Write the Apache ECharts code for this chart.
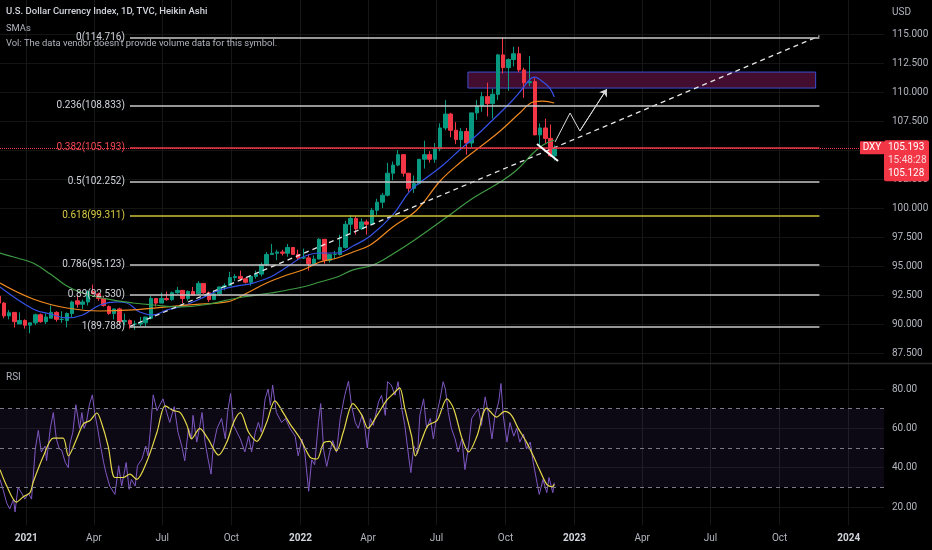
<!DOCTYPE html>
<html><head><meta charset="utf-8">
<script src="https://cdn.jsdelivr.net/npm/echarts@6/dist/echarts.min.js"></script>
<style>html,body{margin:0;padding:0;background:#000;}#c{width:932px;height:550px;}</style>
</head><body><div id="c"></div>
<script>
// ---------- DATA ----------
const WEEKS = ['2020-11-25','2020-12-02','2020-12-09','2020-12-16','2020-12-23','2020-12-30',
'2021-01-06','2021-01-13','2021-01-20','2021-01-27','2021-02-03','2021-02-10','2021-02-17','2021-02-24','2021-03-03','2021-03-10','2021-03-17','2021-03-24','2021-03-31','2021-04-07','2021-04-14','2021-04-21','2021-04-28','2021-05-05','2021-05-12','2021-05-19','2021-05-26','2021-06-02','2021-06-09','2021-06-16','2021-06-23','2021-06-30','2021-07-07','2021-07-14','2021-07-21','2021-07-28','2021-08-04','2021-08-11','2021-08-18','2021-08-25','2021-09-01','2021-09-08','2021-09-15','2021-09-22','2021-09-29','2021-10-06','2021-10-13','2021-10-20','2021-10-27','2021-11-03','2021-11-10','2021-11-17','2021-11-24','2021-12-01','2021-12-08','2021-12-15','2021-12-22','2021-12-29',
'2022-01-05','2022-01-12','2022-01-19','2022-01-26','2022-02-02','2022-02-09','2022-02-16','2022-02-23','2022-03-02','2022-03-09','2022-03-16','2022-03-23','2022-03-30','2022-04-06','2022-04-13','2022-04-20','2022-04-27','2022-05-04','2022-05-11','2022-05-18','2022-05-25','2022-06-01','2022-06-08','2022-06-15','2022-06-22','2022-06-29','2022-07-06','2022-07-13','2022-07-20','2022-07-27','2022-08-03','2022-08-10','2022-08-17','2022-08-24','2022-08-31','2022-09-07','2022-09-14','2022-09-21','2022-09-28','2022-10-05','2022-10-12','2022-10-19','2022-10-26','2022-11-02','2022-11-09','2022-11-16','2022-11-23','2022-11-30','2022-12-05'];
const OPEN  = [92.4,91.8,90.7,91.0,90.0,90.3, 89.9,90.1,90.8,90.2,90.5,91.0,90.4,90.3,90.9,92.0,91.7,91.9,92.8,92.6,92.2,91.5,90.9,91.3,90.2,90.3,90.0,90.0,90.1,90.5,92.2,91.8,92.2,92.1,92.7,92.9,92.2,92.8,92.6,93.5,92.7,92.1,92.6,93.2,93.3,94.0,94.1,93.9,93.6,94.1,94.3,95.1,96.0,96.1,96.2,96.1,96.6,96.0, 95.7,95.7,95.2,95.6,97.3,95.5,96.0,96.0,96.6,98.6,99.1,98.2,98.8,98.6,99.8,100.5,101.1,103.0,103.7,104.6,103.0,101.7,102.1,104.2,104.6,104.2,105.1,106.9,108.1,106.7,105.9,106.6,105.6,108.2,108.8,109.6,109.0,109.8,113.2,112.1,112.8,113.3,111.9,110.8,110.9,106.3,106.9,106.0,104.5];
const HIGH  = [92.5,91.9,91.2,91.0,91.0,90.4, 90.1,90.9,90.9,90.9,91.6,91.1,91.1,91.0,92.0,92.5,92.1,92.9,93.4,92.7,92.3,91.6,91.3,91.4,90.9,90.4,90.3,90.6,90.6,92.4,92.2,92.7,92.8,92.8,93.2,92.9,92.9,93.2,93.7,93.5,92.8,92.9,93.2,93.5,94.5,94.3,94.6,94.0,94.2,94.6,95.3,96.2,96.9,96.4,96.4,96.9,96.6,96.4, 96.5,96.0,95.9,97.4,97.3,96.0,96.3,97.7,98.9,99.4,99.3,99.1,99.0,100.0,100.8,101.3,103.9,104.0,105.0,104.6,103.0,102.8,104.2,105.8,104.9,105.6,107.3,109.3,108.2,107.4,106.9,106.9,108.2,109.3,110.0,110.8,110.3,113.3,114.72,112.9,113.9,113.9,112.1,113.1,111.2,107.3,107.7,107.2,105.4];
const LOW   = [91.8,90.5,90.4,89.7,90.0,89.6, 89.2,89.9,90.1,90.0,90.5,90.2,90.1,89.7,90.6,91.4,91.3,91.6,92.6,92.0,91.5,90.8,90.4,90.0,89.9,89.6,89.5,89.8,89.8,90.4,91.5,91.8,92.0,92.0,92.6,91.8,92.0,92.5,92.5,92.6,91.9,92.1,92.4,92.9,93.3,93.7,93.7,93.5,93.3,93.9,94.1,95.0,96.0,95.5,95.9,95.8,96.0,95.5, 95.6,94.6,95.1,95.6,95.2,95.3,95.6,95.9,96.5,97.7,97.7,98.1,97.7,98.6,99.4,100.0,101.0,102.4,103.6,102.7,101.4,101.3,102.0,103.4,103.9,103.9,104.9,106.7,106.1,105.5,105.0,104.6,105.2,107.6,108.3,107.9,107.7,109.3,111.6,110.1,112.2,111.7,109.5,110.5,106.3,105.3,105.6,104.4,104.1];
const CLOSE = [91.8,90.7,90.97,90.2,90.3,89.9, 90.1,90.8,90.2,90.6,91.0,90.4,90.4,90.9,91.9,91.7,91.9,92.8,92.6,92.2,91.6,90.9,91.3,90.2,90.3,90.0,90.0,90.1,90.6,92.2,91.8,92.2,92.1,92.7,92.9,92.2,92.8,92.5,93.5,92.7,92.1,92.6,93.2,93.3,94.0,94.1,93.9,93.6,94.1,94.3,95.1,96.0,96.1,96.2,96.1,96.6,96.0,95.7, 95.7,95.2,95.6,97.3,95.5,96.0,96.0,96.6,98.6,99.1,98.2,98.8,98.6,99.8,100.5,101.1,103.0,103.7,104.6,103.0,101.7,102.1,104.2,104.6,104.2,105.1,106.9,108.1,106.7,105.9,106.6,105.6,108.2,108.8,109.6,109.0,109.8,113.2,112.1,112.8,113.3,111.9,110.8,110.9,106.3,106.9,106.0,104.5,105.193];

const SMA50_DATES = ['2020-11-27','2021-01-10','2021-02-02','2021-02-24','2021-03-17','2021-04-09','2021-05-02','2021-05-15','2021-06-01','2021-06-19','2021-07-07','2021-07-29','2021-08-20','2021-09-16','2021-10-09','2021-10-30','2021-11-22','2021-12-14','2022-01-04','2022-01-27','2022-02-19','2022-03-12','2022-04-04','2022-05-04','2022-05-27','2022-06-19','2022-07-10','2022-08-01','2022-08-24','2022-09-14','2022-10-07','2022-10-20','2022-11-03','2022-11-09','2022-11-20','2022-11-29','2022-12-05'];
const SMA50 = [93.19,91.29,90.86,90.52,90.78,91.64,91.90,91.81,91.03,90.78,91.21,91.55,92.16,92.93,93.28,93.53,94.05,94.91,95.78,96.12,96.12,96.72,97.59,99.40,101.47,102.67,103.71,105.00,106.29,107.59,109.05,110.00,111.12,111.29,110.86,110.34,109.57];
const SMA100_DATES = ['2020-11-27','2021-01-10','2021-02-24','2021-04-09','2021-05-23','2021-07-07','2021-08-20','2021-09-25','2021-10-22','2021-11-17','2021-12-14','2022-01-04','2022-01-27','2022-02-19','2022-03-12','2022-04-04','2022-05-04','2022-06-05','2022-07-06','2022-08-01','2022-08-28','2022-09-24','2022-10-20','2022-11-07','2022-11-20','2022-12-05'];
const SMA100 = [93.53,92.16,91.38,91.12,91.21,91.47,91.72,91.90,92.67,93.53,94.22,94.66,95.34,95.69,96.21,96.81,98.36,99.83,102.33,103.88,105.26,106.64,108.19,109.14,109.22,109.05];
const SMA200_DATES = ['2020-11-27','2020-12-20','2021-01-10','2021-02-02','2021-02-24','2021-03-17','2021-04-18','2021-05-23','2021-06-19','2021-07-25','2021-08-24','2021-10-09','2021-11-22','2022-01-04','2022-01-27','2022-02-19','2022-03-12','2022-04-04','2022-04-21','2022-06-02','2022-07-15','2022-08-17','2022-09-24','2022-10-16','2022-11-07','2022-11-20','2022-12-05'];
const SMA200 = [96.12,95.69,95.26,94.31,93.28,92.67,92.16,91.81,91.64,91.47,91.64,92.24,92.67,93.19,93.62,94.05,94.66,95.00,95.52,97.24,99.22,100.78,102.24,103.28,104.74,105.43,105.86];

const RSI_DATES = ['2020-11-27','2020-12-01','2020-12-06','2020-12-10','2020-12-15','2020-12-17','2020-12-21','2020-12-26','2020-12-30','2021-01-04','2021-01-08','2021-01-13','2021-01-17','2021-01-21','2021-01-26','2021-01-28','2021-02-02','2021-02-06','2021-02-10','2021-02-14','2021-02-17','2021-02-22','2021-02-26','2021-02-28','2021-03-04','2021-03-08','2021-03-13','2021-03-16','2021-03-19','2021-03-22','2021-03-26','2021-03-30','2021-04-02','2021-04-06','2021-04-09','2021-04-14','2021-04-17','2021-04-22','2021-04-29','2021-05-04','2021-05-08','2021-05-14','2021-05-18','2021-05-21','2021-05-26','2021-05-29','2021-06-04','2021-06-09','2021-06-12','2021-06-15','2021-06-19','2021-06-24','2021-07-02','2021-07-07','2021-07-11','2021-07-17','2021-07-22','2021-07-27','2021-07-31','2021-08-05','2021-08-09','2021-08-11','2021-08-16','2021-08-20','2021-08-23','2021-08-27','2021-08-31','2021-09-04','2021-09-07','2021-09-12','2021-09-18','2021-09-23','2021-09-26','2021-09-30','2021-10-04','2021-10-13','2021-10-19','2021-10-24','2021-10-28','2021-11-02','2021-11-06','2021-11-10','2021-11-15','2021-11-19','2021-11-22','2021-11-25','2021-11-30','2021-12-07','2021-12-12','2021-12-18','2021-12-25','2021-12-29','2022-01-03','2022-01-07','2022-01-12','2022-01-16','2022-01-20','2022-01-25','2022-01-28','2022-02-01','2022-02-05','2022-02-09','2022-02-13','2022-02-18','2022-02-23','2022-03-01','2022-03-06','2022-03-10','2022-03-15','2022-03-19','2022-03-24','2022-03-28','2022-03-31','2022-04-04','2022-04-08','2022-04-15','2022-04-19','2022-04-24','2022-04-27','2022-05-02','2022-05-07','2022-05-11','2022-05-16','2022-05-20','2022-05-25','2022-05-28','2022-06-01','2022-06-06','2022-06-09','2022-06-14','2022-06-18','2022-06-23','2022-06-27','2022-07-02','2022-07-06','2022-07-10','2022-07-13','2022-07-17','2022-07-21','2022-07-26','2022-07-30','2022-08-04','2022-08-08','2022-08-13','2022-08-17','2022-08-22','2022-08-26','2022-08-30','2022-09-04','2022-09-08','2022-09-13','2022-09-17','2022-09-22','2022-09-25','2022-09-28','2022-10-03','2022-10-07','2022-10-12','2022-10-16','2022-10-20','2022-10-25','2022-10-29','2022-11-03','2022-11-07','2022-11-12','2022-11-15','2022-11-20','2022-11-25','2022-11-28','2022-12-03','2022-12-05'];
const RSI = [34,29,22,19,24,17.5,30,27,24,27,24,49.5,59,48,51,43.5,60,68,54.6,49.5,49,42.6,40,52,58,72,60,68,60,63,72,77,68,60,53,42.6,37.5,30.7,26.4,41,30.7,42.6,29,34,30.7,41,44.4,51,46,58,77,69,75,68,63,71,58,51,43.5,60,54.6,66.6,53,61,68,53,44.4,36.7,51,60,65,54.6,68,77.7,61.5,54.6,48,56,48,58,63,58,75,80,71.7,82,68,63,65,60,56,46,54.6,47,28,44,41.5,63,72.6,48.6,40.6,47.8,53.8,47.8,65,76.8,84,71.7,63,60,66.6,60,50,65,61.5,73.4,76.8,66.6,83.7,82,76.8,83.7,70,61.5,46,37.5,51,47,66.6,75,60,65,54.6,68,75,83.7,80,68,60,54.6,48,54.6,39,51,65,68,70,61.5,76,68,54.6,66.6,73.4,82.8,66.6,53,63,56,60,53,57,49.5,53,42.6,32.4,26.4,34,27.3,35,27.3,32.4];
const RSI_MA_DATES = ['2020-11-27','2020-12-06','2020-12-19','2020-12-28','2021-01-06','2021-01-10','2021-01-24','2021-02-06','2021-02-19','2021-02-26','2021-03-09','2021-03-18','2021-03-27','2021-04-05','2021-04-11','2021-04-20','2021-04-29','2021-05-10','2021-05-19','2021-05-28','2021-06-10','2021-06-24','2021-07-05','2021-07-16','2021-07-25','2021-08-03','2021-08-09','2021-08-20','2021-08-31','2021-09-14','2021-09-25','2021-10-04','2021-10-13','2021-10-24','2021-11-04','2021-11-17','2021-11-28','2021-12-09','2021-12-18','2022-01-01','2022-01-14','2022-01-23','2022-02-01','2022-02-09','2022-02-18','2022-02-27','2022-03-12','2022-03-24','2022-04-01','2022-04-13','2022-04-26','2022-05-05','2022-05-13','2022-05-20','2022-05-29','2022-06-03','2022-06-12','2022-06-20','2022-07-02','2022-07-15','2022-07-24','2022-08-04','2022-08-13','2022-08-24','2022-09-06','2022-09-19','2022-09-30','2022-10-09','2022-10-18','2022-10-29','2022-11-07','2022-11-16','2022-11-25','2022-12-02','2022-12-05'];
const RSI_MA = [39,30.7,22.5,25.2,27.3,32.4,46,55,55,46,54.6,62.3,64,67.8,63,51,35,35,36.7,34,42.6,58,71.4,69,68,61.5,54.6,60,54.6,46.4,53,63,68,58,53.4,63,74,68,62.3,54.6,45.2,44.4,52.6,53.4,48.6,58,72.6,66.6,60,66.6,74.3,77.7,80.6,70,56,46,54.6,61.5,64,75,70,55,48,56,70.3,65.7,68.6,66.6,60,53,46,38.4,31.5,30.3,31.5];

const FIB_RATIOS = ['0','0.236','0.382','0.5','0.618','0.786','0.89','1'];
const FIB_PRICES = [114.716,108.833,105.193,102.252,99.311,95.123,92.530,89.788];
const FIB_START = '2021-05-19', FIB_END = '2023-11-23';
const TREND_DATES = ['2021-05-19','2023-11-23'];
const TREND_PRICES = [89.788,114.83];
const ZONE_DATES = ['2022-08-12','2023-11-18'];
const ZONE_PRICES = [111.72,110.34];
const PATH_DATES = ['2022-12-06','2022-12-26','2023-01-08','2023-02-13'];
const PATH_PRICES = [105.69,108.19,106.64,110.26];
const SLASH_DATES = ['2022-11-12','2022-12-10'];
const SLASH_PRICES = [105.52,104.05];

const TICK_DATES = ['2021-01-01','2021-04-01','2021-07-01','2021-10-01','2022-01-01','2022-04-01','2022-07-01','2022-10-01','2023-01-01','2023-04-01','2023-07-01','2023-10-01','2024-01-01'];
const TICK_LABELS = ['2021','Apr','Jul','Oct','2022','Apr','Jul','Oct','2023','Apr','Jul','Oct','2024'];
const LAST_PRICE = 105.193, PREV_PRICE = 105.128, COUNTDOWN = '15:48:28', SYMBOL = 'DXY';
const TITLE = 'U.S. Dollar Currency Index, 1D, TVC, Heikin Ashi';
const SUB1 = 'SMAs';
const SUB2 = "Vol: The data vendor doesn't provide volume data for this symbol.";

// ---------- CHART ----------
const FONT = 'Roboto';
const TXT = '#b2b5be';
function ts(s){const p=s.split('-').map(Number);return Date.UTC(p[0],p[1]-1,p[2]);}
const XMIN = ts('2020-11-27'), XMAX = ts('2024-02-17');
const tickTs = TICK_DATES.map(ts);
const pts = (d,v)=>d.map((x,i)=>[ts(x),v[i]]);

const chart = echarts.init(document.getElementById('c'));
const hiddenX = gi => ({type:'value',gridIndex:gi,min:XMIN,max:XMAX,show:false,splitLine:{show:false}});
const FIB_LINE_COL = ['#c8c8c8','#c8c8c8','#e8394a','#c8c8c8','#cfc23a','#c8c8c8','#c8c8c8','#c8c8c8'];
const FIB_LBL_COL  = ['#d1d4dc','#d1d4dc','#f0454f','#d1d4dc','#d9cc45','#d1d4dc','#d1d4dc','#d1d4dc'];

const option = {
  backgroundColor:'#000',
  animation:false,
  grid:[
    {left:0,right:48,top:34,height:319},
    {left:0,right:48,top:389,height:118},
    {left:0,right:48,top:0,height:525}
  ],
  xAxis:[
    hiddenX(0), hiddenX(1),
    {type:'value',gridIndex:2,min:XMIN,max:XMAX,
     axisLine:{show:false},
     axisTick:{show:false,customValues:tickTs},
     splitLine:{show:true,lineStyle:{color:'#171717',width:1}},
     axisLabel:{customValues:tickTs,margin:8,color:TXT,fontSize:10,fontFamily:FONT,
       formatter:v=>{const i=tickTs.indexOf(v);const t=i>=0?TICK_LABELS[i]:'';return /^\d{4}$/.test(t)?'{b|'+t+'}':t;},
       rich:{b:{fontWeight:'bold',color:'#d1d4dc',fontSize:10,fontFamily:FONT}}}}
  ],
  yAxis:[
    {type:'value',gridIndex:0,position:'right',min:87.5,max:115,interval:2.5,
     axisLine:{show:false},axisTick:{show:false},
     splitLine:{lineStyle:{color:'#141414'}},
     axisLabel:{color:TXT,fontSize:10,fontFamily:FONT,margin:8,showMinLabel:true,showMaxLabel:true,formatter:v=>v.toFixed(3)}},
    {type:'value',gridIndex:1,position:'right',min:20,max:80,interval:20,
     axisLine:{show:false},axisTick:{show:false},
     splitLine:{lineStyle:{color:'#141414'}},
     axisLabel:{color:TXT,fontSize:10,fontFamily:FONT,margin:8,formatter:v=>v.toFixed(2)}},
    {type:'value',gridIndex:2,min:0,max:1,show:false,splitLine:{show:false}}
  ],
  series:[
    {type:'candlestick',xAxisIndex:0,yAxisIndex:0,barWidth:4,
     data:WEEKS.map((d,i)=>[ts(d),OPEN[i],CLOSE[i],LOW[i],HIGH[i]]),
     itemStyle:{color:'#089981',color0:'#f23645',borderColor:'#089981',borderColor0:'#f23645',borderWidth:1},
     markLine:{silent:true,symbol:'none',label:{show:false},
       lineStyle:{color:'#f23645',type:'dotted',width:1},data:[{yAxis:LAST_PRICE}]}},
    {type:'line',name:'SMA50',xAxisIndex:0,yAxisIndex:0,data:pts(SMA50_DATES,SMA50),showSymbol:false,smooth:0.4,
     lineStyle:{color:'#3552e6',width:1.2}},
    {type:'line',name:'SMA100',xAxisIndex:0,yAxisIndex:0,data:pts(SMA100_DATES,SMA100),showSymbol:false,smooth:0.4,
     lineStyle:{color:'#f0891e',width:1.2}},
    {type:'line',name:'SMA200',xAxisIndex:0,yAxisIndex:0,data:pts(SMA200_DATES,SMA200),showSymbol:false,smooth:0.4,
     lineStyle:{color:'#3e9a43',width:1.2}},
    {type:'line',name:'Trend',xAxisIndex:0,yAxisIndex:0,data:pts(TREND_DATES,TREND_PRICES),showSymbol:false,z:4,
     lineStyle:{color:'#e6e6e6',width:1.3,type:[5,4]},
     markLine:{silent:true,symbol:'none',
       data:FIB_PRICES.map((p,i)=>[
         {coord:[ts(FIB_START),p],lineStyle:{color:FIB_LINE_COL[i],width:1.6,type:'solid'},
          label:{show:true,position:'start',distance:5,color:FIB_LBL_COL[i],fontSize:10,fontFamily:FONT,
            formatter:FIB_RATIOS[i]+'('+p.toFixed(3)+')'}},
         {coord:[ts(FIB_END),p]}])},
     markArea:{silent:true,
       itemStyle:{color:'#430d30',borderColor:'#3d4fd0',borderWidth:1,opacity:1},
       emphasis:{disabled:true},
       data:[[{coord:[ts(ZONE_DATES[0]),ZONE_PRICES[0]]},{coord:[ts(ZONE_DATES[1]),ZONE_PRICES[1]]}]]}},
    {type:'line',name:'Path',xAxisIndex:0,yAxisIndex:0,data:pts(PATH_DATES,PATH_PRICES),showSymbol:false,z:6,
     lineStyle:{color:'#d9d9d9',width:1},
     markLine:{silent:true,symbol:['none','arrow'],symbolSize:7,label:{show:false},
       lineStyle:{color:'#d9d9d9',width:1,type:'solid'},
       data:[[{coord:[ts(PATH_DATES[2]),PATH_PRICES[2]]},{coord:[ts(PATH_DATES[3]),PATH_PRICES[3]]}]]}},
    {type:'line',name:'Slash',xAxisIndex:0,yAxisIndex:0,data:pts(SLASH_DATES,SLASH_PRICES),showSymbol:false,z:6,
     lineStyle:{color:'#ffffff',width:2}},
    {type:'line',name:'RSI',xAxisIndex:1,yAxisIndex:1,data:pts(RSI_DATES,RSI),showSymbol:false,clip:false,
     lineStyle:{color:'#7e57c2',width:1},
     markArea:{silent:true,itemStyle:{color:'rgba(126,87,194,0.10)'},data:[[{yAxis:30},{yAxis:70}]]},
     markLine:{silent:true,symbol:'none',label:{show:false},
       lineStyle:{color:'#787b86',type:[4,4],width:1},data:[{yAxis:70},{yAxis:50},{yAxis:30}]}},
    {type:'line',name:'RSI MA',xAxisIndex:1,yAxisIndex:1,data:pts(RSI_MA_DATES,RSI_MA),showSymbol:false,clip:false,smooth:0.3,
     lineStyle:{color:'#e6da4a',width:1.2}}
  ]
};
chart.setOption(option);

const yLast = chart.convertToPixel({yAxisIndex:0}, LAST_PRICE);
const fnt = (s,w)=>(w||'normal')+' '+s+'px '+FONT;
chart.setOption({graphic:[
  {type:'text',x:6,y:12,z:100,style:{text:TITLE,fill:'#d1d4dc',font:fnt(9.5,'500'),verticalAlign:'middle'}},
  {type:'text',x:6,y:29,z:100,style:{text:SUB1,fill:'#b2b5be',font:fnt(9.4),verticalAlign:'middle'}},
  {type:'text',x:6,y:44,z:100,style:{text:SUB2,fill:'#b2b5be',font:fnt(9.4),verticalAlign:'middle'}},
  {type:'text',x:892,y:12,z:100,style:{text:'USD',fill:TXT,font:fnt(10),verticalAlign:'middle'}},
  {type:'text',x:6,y:377,z:100,style:{text:'RSI',fill:'#b2b5be',font:fnt(10),verticalAlign:'middle'}},
  {type:'line',z:100,shape:{x1:0,y1:363.5,x2:932,y2:363.5},style:{stroke:'#2a2a2a',lineWidth:1.5}},
  {type:'rect',z:100,shape:{x:860,y:yLast-6.5,width:24,height:13,r:1},style:{fill:'#f23645'}},
  {type:'text',z:101,x:872,y:yLast,style:{text:SYMBOL,fill:'#fff',font:fnt(10),align:'center',verticalAlign:'middle'}},
  {type:'rect',z:100,shape:{x:884,y:yLast-7.5,width:45,height:41,r:2},style:{fill:'#f23645'}},
  {type:'text',z:101,x:888,y:yLast,style:{text:LAST_PRICE.toFixed(3),fill:'#fff',font:fnt(10),verticalAlign:'middle'}},
  {type:'text',z:101,x:888,y:yLast+12.5,style:{text:COUNTDOWN,fill:'rgba(255,255,255,0.8)',font:fnt(10),verticalAlign:'middle'}},
  {type:'text',z:101,x:888,y:yLast+26,style:{text:PREV_PRICE.toFixed(3),fill:'#fff',font:fnt(10),verticalAlign:'middle'}}
]});
</script></body></html>
